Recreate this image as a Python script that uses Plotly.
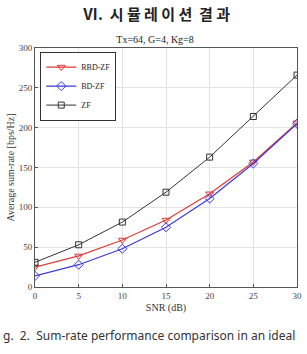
import plotly.graph_objects as go

snr = [0, 5, 10, 15, 20, 25, 30]
rbd_zf = [25, 39, 59, 84, 117, 157, 206]
bd_zf = [14, 28, 48, 75, 111, 155, 205]
zf = [31, 53, 81.5, 119, 163, 214, 266]

x_ticks = [0, 5, 10, 15, 20, 25, 30]
y_ticks = [0, 50, 100, 150, 200, 250, 300]

serif = "Liberation Serif, Times New Roman, serif"

fig = go.Figure()
fig.add_trace(go.Scatter(x=snr, y=rbd_zf, name="RBD-ZF", mode="lines+markers",
                         line=dict(color="#e03a3a", width=1.2),
                         marker=dict(symbol="triangle-down-open", size=7, color="#e03a3a", line=dict(width=1))))
fig.add_trace(go.Scatter(x=snr, y=bd_zf, name="BD-ZF", mode="lines+markers",
                         line=dict(color="#3a3ad8", width=1.2),
                         marker=dict(symbol="diamond-open", size=7, color="#3a3ad8", line=dict(width=1))))
fig.add_trace(go.Scatter(x=snr, y=zf, name="ZF", mode="lines+markers",
                         line=dict(color="#333333", width=1),
                         marker=dict(symbol="square-open", size=6, color="#333333", line=dict(width=1))))

axis_common = dict(showgrid=True, gridcolor="#e4e4e4", gridwidth=1, showline=True,
                   linecolor="#555555", linewidth=1, mirror=True, ticks="inside",
                   ticklen=3, tickcolor="#555555", zeroline=False,
                   tickfont=dict(family=serif, size=9, color="#444444"))

fig.update_layout(
    width=307, height=354,
    margin=dict(l=35, r=5, t=48, b=67),
    paper_bgcolor="white", plot_bgcolor="white",
    showlegend=True,
    legend=dict(x=0.02, y=0.985, xanchor="left", yanchor="top",
                bgcolor="white", bordercolor="#333333", borderwidth=1,
                font=dict(family=serif, size=8, color="#222222"),
                tracegroupgap=0, itemwidth=30),
    title=dict(text="Tx=64, G=4, Kg=8", x=0.505, xanchor="center", y=0.888, yanchor="middle",
               font=dict(family=serif, size=10, color="#222222")),
)
fig.update_xaxes(range=[0, 30], tickvals=x_ticks,
                 title=dict(text="SNR (dB)", standoff=4, font=dict(family=serif, size=10, color="#333333")),
                 **axis_common)
fig.update_yaxes(range=[0, 300], tickvals=y_ticks,
                 title=dict(text="Average sum-rate [bps/Hz]", standoff=2,
                            font=dict(family=serif, size=10, color="#333333")),
                 **axis_common)

fig.add_annotation(text="<b>Ⅵ.  시 뮬 레 이 션  결 과</b>", xref="paper", yref="paper",
                   x=0.465, y=1.0, yshift=35, xanchor="center", yanchor="middle", showarrow=False,
                   font=dict(family="Noto Sans CJK KR", size=15, color="#222222"))
fig.add_annotation(text="g.  2.  Sum-rate performance comparison in an ideal", xref="paper", yref="paper",
                   x=-35/267, y=0, yshift=-48, xanchor="left", yanchor="middle", showarrow=False,
                   font=dict(family="Noto Sans, sans-serif", size=12, color="#333333"))

fig.write_html("out.html")
